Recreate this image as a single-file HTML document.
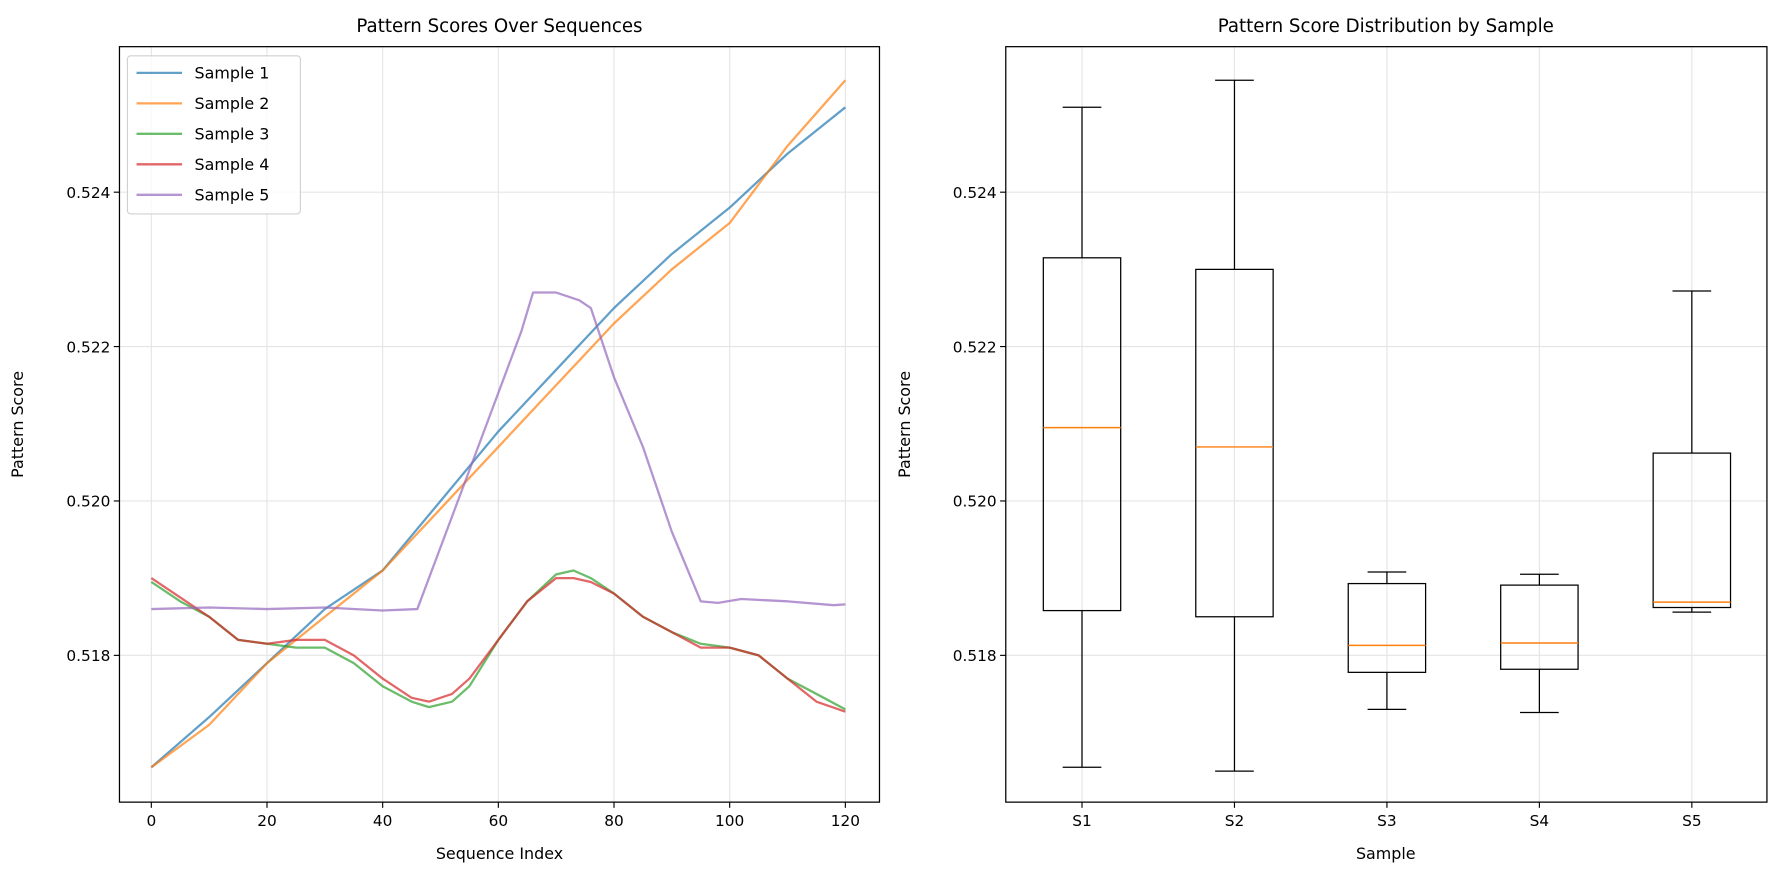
<!DOCTYPE html>
<html><head><meta charset="utf-8"><style>html,body{margin:0;padding:0;background:#fff}svg{display:block}text{font-family:"DejaVu Sans","Liberation Sans",sans-serif;fill:#000}</style></head>
<body>
<svg id="fig" width="1784" height="881" viewBox="0 0 1568 774.3" xmlns="http://www.w3.org/2000/svg"></svg>
<script>
const xIdx1 = [0,10,20,30,40,50,60,70,80,90,100,110,120];
const sample1 = [0.51655,0.5172,0.5179,0.5186,0.5191,0.5200,0.5209,0.5217,0.5225,0.5232,0.5238,0.5245,0.5251];
const sample2 = [0.51655,0.5171,0.5179,0.5185,0.5191,0.5199,0.5207,0.5215,0.5223,0.5230,0.5236,0.5246,0.52545];
const xIdx3 = [0,5,10,15,20,25,30,35,40,45,48,52,55,60,65,70,73,76,80,85,90,95,100,105,110,115,120];
const sample3 = [0.51895,0.5187,0.5185,0.5182,0.51815,0.5181,0.5181,0.5179,0.5176,0.5174,0.51733,0.5174,0.5176,0.5182,0.5187,0.51905,0.5191,0.5190,0.5188,0.5185,0.5183,0.51815,0.5181,0.5180,0.5177,0.5175,0.5173];
const sample4 = [0.5190,0.51875,0.5185,0.5182,0.51815,0.5182,0.5182,0.5180,0.5177,0.51745,0.5174,0.5175,0.5177,0.5182,0.5187,0.5190,0.5190,0.51895,0.5188,0.5185,0.5183,0.5181,0.5181,0.5180,0.5177,0.5174,0.51727];
const xIdx5 = [0,10,20,30,40,46,50,55,60,64,66,70,74,76,80,85,90,95,98,102,110,118,120];
const sample5 = [0.5186,0.51862,0.5186,0.51862,0.51858,0.5186,0.5194,0.5204,0.5214,0.5222,0.5227,0.5227,0.5226,0.5225,0.5216,0.5207,0.5196,0.5187,0.51868,0.51873,0.5187,0.51865,0.51866];
const xTicks = [0,20,40,60,80,100,120];
const yTicks = [0.518,0.520,0.522,0.524];
const yTickLabels = ["0.518","0.520","0.522","0.524"];
const boxCats = ["S1","S2","S3","S4","S5"];
const boxLow = [0.51655,0.5165,0.5173,0.51726,0.51856];
const boxQ1 = [0.51858,0.5185,0.51778,0.51782,0.51862];
const boxMed = [0.52095,0.5207,0.51813,0.51816,0.51869];
const boxQ3 = [0.52315,0.5230,0.51893,0.51891,0.52062];
const boxHigh = [0.5251,0.52545,0.51908,0.51905,0.52272];

const NS="http://www.w3.org/2000/svg", svg=document.getElementById('fig');
function mk(tag,attrs,parent,txt){const e=document.createElementNS(NS,tag);for(const k in attrs)e.setAttribute(k,attrs[k]);if(txt!==undefined)e.textContent=txt;(parent||svg).appendChild(e);return e;}
const L={l:105,r:773,t:41,b:705}, R={l:884,r:1553,t:41,b:705};
const xs=v=>133+(v-0)*(743-133)/120;
const ys=v=>576-(v-0.518)/0.002*135.7;
const xb=i=>951+i*134;

const gL=mk('g',{});
xTicks.forEach(t=>{const g=mk('line',{x1:xs(t),x2:xs(t),y1:L.t,y2:L.b,stroke:'#e5e5e5','stroke-width':1},gL);});
yTicks.forEach(t=>{const g=mk('line',{x1:L.l,x2:L.r,y1:ys(t),y2:ys(t),stroke:'#e5e5e5','stroke-width':1},gL);});
const series=[[xIdx1,sample1,'#1f77b4','Sample 1'],[xIdx1,sample2,'#ff7f0e','Sample 2'],[xIdx3,sample3,'#2ca02c','Sample 3'],[xIdx3,sample4,'#d62728','Sample 4'],[xIdx5,sample5,'#9467bd','Sample 5']];
series.forEach((s,k)=>{const d=s[0].map((x,i)=>(i?'L':'M')+xs(x).toFixed(1)+','+ys(s[1][i]).toFixed(1)).join('');
const p=mk('path',{d:d,fill:'none',stroke:s[2],'stroke-opacity':0.7,'stroke-width':2,'stroke-linejoin':'round'},gL);
});
mk('rect',{x:L.l,y:L.t,width:L.r-L.l,height:L.b-L.t,fill:'none',stroke:'#000','stroke-width':1.1},gL);
xTicks.forEach(t=>{mk('line',{x1:xs(t),x2:xs(t),y1:L.b,y2:L.b+5,stroke:'#000'},gL);const e=mk('text',{x:xs(t),y:L.b+21,'text-anchor':'middle','font-size':13.5},gL,String(t));});
yTicks.forEach((t,i)=>{mk('line',{x1:L.l-5,x2:L.l,y1:ys(t),y2:ys(t),stroke:'#000'},gL);const e=mk('text',{x:L.l-8,y:ys(t)+5,'text-anchor':'end','font-size':13.5},gL,yTickLabels[i]);});
let e=mk('text',{x:439,y:28,'text-anchor':'middle','font-size':16},gL,'Pattern Scores Over Sequences');
e=mk('text',{x:439,y:755,'text-anchor':'middle','font-size':14},gL,'Sequence Index');
e=mk('text',{x:0,y:0,'text-anchor':'middle','font-size':14,transform:'translate(20,373) rotate(-90)'},gL,'Pattern Score');
const lg=mk('g',{},gL);
mk('rect',{x:112,y:49,width:152,height:139,rx:3,fill:'#fff','fill-opacity':0.8,stroke:'#d0d0d0'},lg);
series.forEach((s,k)=>{const y=64+k*26.8;const g=mk('g',{},lg);
mk('line',{x1:120,x2:160,y1:y,y2:y,stroke:s[2],'stroke-opacity':0.7,'stroke-width':2},g);mk('text',{x:171,y:y+5,'font-size':14},g,s[3]);});

const gR=mk('g',{});
boxCats.forEach((c,i)=>{const g=mk('line',{x1:xb(i),x2:xb(i),y1:R.t,y2:R.b,stroke:'#e5e5e5'},gR);});
yTicks.forEach(t=>{const g=mk('line',{x1:R.l,x2:R.r,y1:ys(t),y2:ys(t),stroke:'#e5e5e5'},gR);});
boxCats.forEach((c,i)=>{const x=xb(i),g=mk('g',{},gR);
const bw=34,cw=17;
mk('line',{x1:x,x2:x,y1:ys(boxHigh[i]),y2:ys(boxQ3[i]),stroke:'#000','stroke-width':1.1},g);
mk('line',{x1:x,x2:x,y1:ys(boxQ1[i]),y2:ys(boxLow[i]),stroke:'#000','stroke-width':1.1},g);
mk('line',{x1:x-cw,x2:x+cw,y1:ys(boxHigh[i]),y2:ys(boxHigh[i]),stroke:'#000','stroke-width':1.1},g);
mk('line',{x1:x-cw,x2:x+cw,y1:ys(boxLow[i]),y2:ys(boxLow[i]),stroke:'#000','stroke-width':1.1},g);
mk('rect',{x:x-bw,y:ys(boxQ3[i]),width:2*bw,height:ys(boxQ1[i])-ys(boxQ3[i]),fill:'none',stroke:'#000','stroke-width':1.1},g);
mk('line',{x1:x-bw,x2:x+bw,y1:ys(boxMed[i]),y2:ys(boxMed[i]),stroke:'#ff7f0e','stroke-width':1.3},g);});
mk('rect',{x:R.l,y:R.t,width:R.r-R.l,height:R.b-R.t,fill:'none',stroke:'#000','stroke-width':1.1},gR);
boxCats.forEach((c,i)=>{mk('line',{x1:xb(i),x2:xb(i),y1:R.b,y2:R.b+5,stroke:'#000'},gR);const e=mk('text',{x:xb(i),y:R.b+21,'text-anchor':'middle','font-size':13.5},gR,c);});
yTicks.forEach((t,i)=>{mk('line',{x1:R.l-5,x2:R.l,y1:ys(t),y2:ys(t),stroke:'#000'},gR);const e=mk('text',{x:R.l-8,y:ys(t)+5,'text-anchor':'end','font-size':13.5},gR,yTickLabels[i]);});
e=mk('text',{x:1218,y:28,'text-anchor':'middle','font-size':16},gR,'Pattern Score Distribution by Sample');
e=mk('text',{x:1218,y:755,'text-anchor':'middle','font-size':14},gR,'Sample');
e=mk('text',{x:0,y:0,'text-anchor':'middle','font-size':14,transform:'translate(800,373) rotate(-90)'},gR,'Pattern Score');
</script>
</body></html>
